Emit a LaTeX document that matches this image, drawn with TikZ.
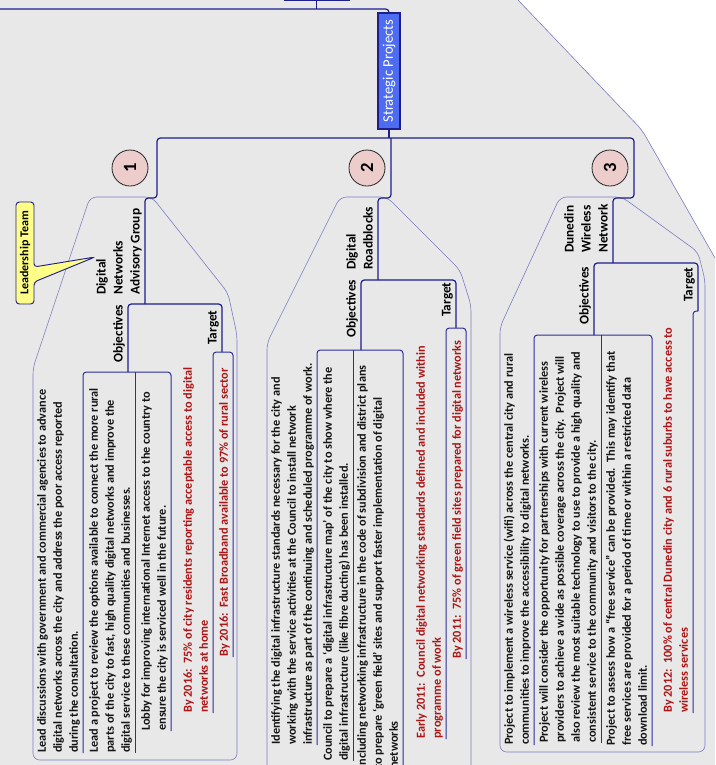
\documentclass[tikz,border=0pt]{standalone}
\usepackage{fontspec}
\setmainfont{Carlito}
\definecolor{bggray}{HTML}{E8E8E8}
\definecolor{navy}{HTML}{1E1E8C}
\definecolor{uline}{HTML}{2E2E9E}
\definecolor{cloudc}{HTML}{7C7CC4}
\definecolor{goalred}{HTML}{AE1414}
\definecolor{bodyc}{HTML}{141414}
\definecolor{spblue}{HTML}{4D6CF2}
\definecolor{badgefill}{HTML}{EDCCCC}
\definecolor{noteyellow}{HTML}{FFFF88}

\begin{document}
\begin{tikzpicture}[x=0.75pt,y=-0.75pt,
  conn/.style={draw=navy, line width=0.9pt, rounded corners=2.5pt},
  ul/.style={draw=uline, line width=0.75pt, rounded corners=2.5pt},
  cloud/.style={draw=cloudc, line width=0.45pt, rounded corners=5pt},
  body/.style={rotate=90, anchor=south west, inner sep=0pt, align=left, text=bodyc,
               font=\fontsize{9.2}{12}\selectfont\bfseries},
  goal/.style={body, text=goalred},
  topic/.style={rotate=90, anchor=south west, inner sep=0pt, align=left, text=black,
                font=\fontsize{10}{12.75}\selectfont\bfseries},
  badge/.style={circle, draw=black!85, line width=0.6pt, fill=badgefill, minimum size=27pt,
                inner sep=0pt, rotate=90, font=\fontsize{14}{14}\selectfont\bfseries},
]
\useasboundingbox (0,0) rectangle (715,765);
\clip (0,0) rectangle (715,765);

% canvas
\fill[white] (0,0) rectangle (715,765);
\fill[bggray] (0,0) -- (518,0) -- (642,130) -- (715,258) -- (715,765) -- (0,765) -- cycle;
\draw[cloud] (518,0) -- (642,130) -- (715,258);

% group outlines
\draw[cloud] (152,197) -- (228,293) -- (237,335) -- (237,760) -- (33,760) -- (33,368) -- (90,197) -- cycle;
\draw[cloud] (387,197) -- (460,270) -- (471,305) -- (471,790) -- (267,790) -- (267,343) -- (340,197) -- cycle;
\draw[cloud] (622,197) -- (698,252) -- (705,280) -- (705,752) -- (500,752) -- (500,327) -- (560,197) -- cycle;

% callout
\draw[draw=navy, line width=0.7pt, fill=noteyellow, rounded corners=2.5pt]
  (16,250) -- (16,202) -- (34,202) -- (34,267) -- (95,257) -- (34,282) -- (34,304) -- (16,304) -- cycle;
\node[rotate=90, inner sep=0pt, font=\fontsize{9}{9}\selectfont\bfseries] (lead) at (25,253) {Leadership Team};

% central topics
\node[draw=navy, fill=spblue, minimum width=48.75pt, minimum height=10pt, inner sep=0pt] (root) at (316.5,-6) {};
\node[rotate=90, draw=navy, line width=0.8pt, fill=spblue, text=white, minimum width=87pt,
      minimum height=16.5pt, inner sep=0pt, font=\fontsize{11}{11}\selectfont] (sp) at (389,71) {Strategic Projects};

% badges
\node[badge] (b1) at (130,168) {1};
\node[badge] (b2) at (367,168) {2};
\node[badge] (b3) at (610,168) {3};

% topic labels
\node[topic] (L1) at (145,295) {Digital\\Networks\\Advisory Group\strut};
\node[topic] (O1) at (128,363) {Objectives\strut};
\node[topic] (G1) at (222,345) {Target\strut};
\node[topic] (L2) at (378,270) {Digital\\Roadblocks\strut};
\node[topic] (O2) at (361,338) {Objectives\strut};
\node[topic] (G2) at (456,317) {Target\strut};
\node[topic] (L3) at (613,253) {Dunedin\\Wireless\\Network\strut};
\node[topic] (O3) at (594,325) {Objectives\strut};
\node[topic] (G3) at (698,302) {Target\strut};

% items: Digital Networks Advisory Group
\node[body] (T1) at (83,753) {Lead discussions with government and commercial agencies to advance\\digital networks across the city and address the poor access reported\\during the consultation.\strut};
\node[body] (T2) at (135,753) {Lead a project to review the options available to connect the more rural\\parts of the city to fast, high quality digital networks and improve the\\digital service to these communities and businesses.\strut};
\node[body] (T3) at (171,731) {Lobby for improving international Internet access to the country to\\ensure the city is serviced well in the future.\strut};
\node[goal] (T4) at (213,713) {By 2016:~~75\% of city residents reporting acceptable access to digital\\networks at home\strut};
\node[goal] (T5) at (233,657) {By 2016:~~Fast Broadband available to 97\% of rural sector\strut};

% items: Digital Roadblocks
\node[body] (T6) at (317,745) {Identifying the digital infrastructure standards necessary for the city and\\working with the service activities at the Council to install network\\infrastructure as part of the continuing and scheduled programme of work.\strut};
\node[body] (T7) at (353,761) {Council to prepare a ‘digital infrastructure map’ of the city to show where the\\digital infrastructure (like fibre ducting) has been installed.\strut};
\node[body] (T8) at (403,769) {Including networking infrastructure in the code of subdivision and district plans\\to prepare ‘green field’ sites and support faster implementation of digital\\networks\strut};
\node[goal] (T9) at (446,739) {Early 2011:~~Council digital networking standards defined and included within\\programme of work\strut};
\node[goal] (T10) at (466,659) {By 2011:~~75\% of green field sites prepared for digital networks\strut};

% items: Dunedin Wireless Network
\node[body] (T11) at (534,745) {Project to implement a wireless service (wifi) across the central city and rural\\communities to improve the accessibility to digital networks.\strut};
\node[body] (T12) at (601,743) {Project will consider the opportunity for partnerships with current wireless\\providers to achieve a wide as possible coverage across the city.~~Project will\\also review the most suitable technology to use to provide a high quality and\\consistent service to the community and visitors to the city.\strut};
\node[body] (T13) at (652,746) {Project to assess how a “free service” can be provided.~~This may identify that\\free services are provided for a period of time or within a restricted data\\download limit.\strut};
\node[goal] (T14) at (693,713) {By 2012:~~100\% of central Dunedin city and 6 rural suburbs to have access to\\wireless services\strut};

% junctions
\coordinate (topleft) at (0,9);
\coordinate (hub) at (391,138);
\coordinate (k1) at (157,198);
\coordinate (s1) at (145,304);
\coordinate (o1) at (128,372);
\coordinate (t1) at (222,352);
\coordinate (s2) at (378,280);
\coordinate (o2) at (361,350);
\coordinate (t2) at (456,328);
\coordinate (k3) at (634,198);
\coordinate (s3) at (613,263);
\coordinate (o3) at (594,335);
\coordinate (t3) at (698,311);

% trunk
\draw[conn] (root.south) -- (root.south |- topleft);
\draw[conn] (topleft) -| (sp.east);
\draw[conn] (sp.west) -- (sp.west |- hub);
\draw[conn] (sp.west |- hub) -| (k1) -| (s1);
\draw[conn] (hub) -- (hub |- k1) -| (s2);
\draw[conn] (sp.west |- hub) -| (k3) -| (s3);

% objective / target splits
\draw[conn] (o1) |- (s1) -| (t1);
\draw[conn] (o2) |- (s2) -| (t2);
\draw[conn] (o3) |- (s3) -| (t3);

% item underlines
\draw[ul] (T1.south west) |- (o1) -| (T3.south west);
\draw[ul] (T2.south west) -- (T2.south west |- o1);
\draw[ul] (T4.south west) |- (t1) -| (T5.south west);
\draw[ul] (T6.south west) |- (o2) -| (T8.south west);
\draw[ul] (T7.south west) -- (T7.south west |- o2);
\draw[ul] (T9.south west) |- (t2) -| (T10.south west);
\draw[ul] (T11.south west) |- (o3) -| (T13.south west);
\draw[ul] (T12.south west) -- (T12.south west |- o3);
\draw[ul] (t3) -| (T14.south west);
\end{tikzpicture}
\end{document}
